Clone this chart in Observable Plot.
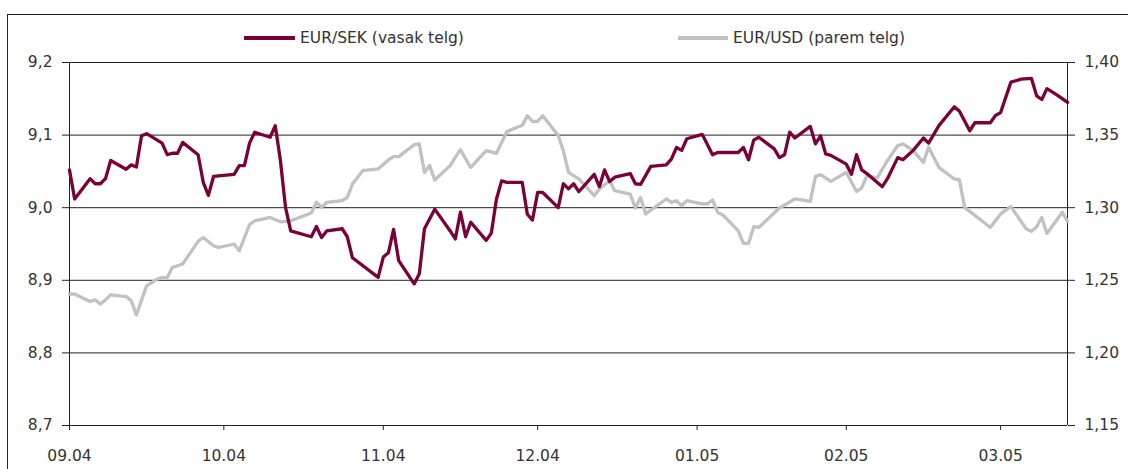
<!DOCTYPE html>
<html><head><meta charset="utf-8">
<script src="https://cdn.jsdelivr.net/npm/d3@7"></script>
<script src="https://cdn.jsdelivr.net/npm/@observablehq/plot@0.6"></script>
<style>
body{margin:0;background:#fff;}
#wrap{position:relative;width:1128px;height:469px;overflow:hidden;font-family:"DejaVu Sans",sans-serif;color:#333;background:#fff;}
#frame{position:absolute;left:7px;top:14px;width:1300px;height:600px;border-top:1px solid #222;border-left:1px solid #222;pointer-events:none;}
#legend{position:relative;height:52px;}
.sw{position:absolute;height:4px;}
.lt{position:absolute;font-size:15.5px;line-height:18px;white-space:nowrap;color:#333;}
#chart svg{display:block;}
</style></head><body>
<div id="wrap"><div id="frame"></div><div id="legend"></div><div id="chart"></div></div>
<script>
const seriesNames = ["EUR/SEK (vasak telg)", "EUR/USD (parem telg)"];
const seriesColors = ["#7a0038", "#c0c0c5"];

const sekDates = ["2004-09-01","2004-09-02","2004-09-05","2004-09-06","2004-09-07","2004-09-08","2004-09-09","2004-09-12","2004-09-13","2004-09-14","2004-09-15","2004-09-16","2004-09-19","2004-09-20","2004-09-21","2004-09-22","2004-09-23","2004-09-26","2004-09-27","2004-09-28","2004-09-29","2004-10-03","2004-10-04","2004-10-05","2004-10-06","2004-10-07","2004-10-10","2004-10-11","2004-10-12","2004-10-13","2004-10-14","2004-10-18","2004-10-19","2004-10-20","2004-10-21","2004-10-24","2004-10-25","2004-10-26","2004-10-31","2004-11-01","2004-11-02","2004-11-03","2004-11-04","2004-11-07","2004-11-08","2004-11-09","2004-11-11","2004-11-14","2004-11-15","2004-11-16","2004-11-17","2004-11-18","2004-11-21","2004-11-22","2004-11-23","2004-11-24","2004-11-25","2004-11-28","2004-11-29","2004-11-30","2004-12-01","2004-12-02","2004-12-05","2004-12-06","2004-12-07","2004-12-08","2004-12-09","2004-12-12","2004-12-13","2004-12-14","2004-12-15","2004-12-16","2004-12-19","2004-12-20","2004-12-21","2004-12-23","2004-12-26","2004-12-27","2004-12-28","2004-12-29","2004-12-30","2005-01-02","2005-01-04","2005-01-05","2005-01-09","2005-01-10","2005-01-11","2005-01-12","2005-01-13","2005-01-16","2005-01-17","2005-01-18","2005-01-19","2005-01-20","2005-01-23","2005-01-24","2005-01-25","2005-01-26","2005-01-27","2005-01-30","2005-01-31","2005-02-01","2005-02-02","2005-02-03","2005-02-06","2005-02-07","2005-02-09","2005-02-10","2005-02-12","2005-02-14","2005-02-15","2005-02-17","2005-02-20","2005-02-21","2005-02-23","2005-02-24","2005-02-27","2005-02-28","2005-03-01","2005-03-03","2005-03-05","2005-03-07","2005-03-08","2005-03-09","2005-03-10","2005-03-12","2005-03-14"];
const sekValues = [9.052,9.012,9.040,9.033,9.033,9.040,9.065,9.053,9.059,9.056,9.099,9.102,9.089,9.073,9.075,9.075,9.090,9.073,9.035,9.017,9.043,9.046,9.058,9.058,9.089,9.104,9.097,9.113,9.065,9.000,8.968,8.960,8.974,8.959,8.968,8.971,8.960,8.931,8.904,8.932,8.938,8.970,8.927,8.895,8.909,8.971,8.998,8.968,8.957,8.994,8.960,8.980,8.955,8.965,9.012,9.037,9.035,9.035,8.991,8.983,9.021,9.021,9.000,9.033,9.026,9.033,9.022,9.046,9.029,9.052,9.036,9.042,9.047,9.033,9.032,9.057,9.059,9.067,9.083,9.079,9.095,9.101,9.073,9.076,9.076,9.083,9.066,9.093,9.097,9.081,9.069,9.073,9.104,9.096,9.112,9.088,9.099,9.074,9.072,9.060,9.046,9.073,9.052,9.047,9.029,9.040,9.069,9.066,9.079,9.096,9.089,9.113,9.139,9.133,9.106,9.117,9.117,9.127,9.131,9.173,9.177,9.178,9.154,9.149,9.164,9.155,9.145];

const usdDates = ["2004-09-01","2004-09-02","2004-09-05","2004-09-06","2004-09-07","2004-09-08","2004-09-09","2004-09-12","2004-09-13","2004-09-14","2004-09-16","2004-09-18","2004-09-19","2004-09-20","2004-09-21","2004-09-23","2004-09-26","2004-09-27","2004-09-29","2004-09-30","2004-10-03","2004-10-04","2004-10-06","2004-10-07","2004-10-10","2004-10-12","2004-10-14","2004-10-18","2004-10-19","2004-10-20","2004-10-21","2004-10-24","2004-10-25","2004-10-26","2004-10-28","2004-10-31","2004-11-02","2004-11-03","2004-11-04","2004-11-07","2004-11-08","2004-11-09","2004-11-10","2004-11-11","2004-11-14","2004-11-15","2004-11-16","2004-11-17","2004-11-18","2004-11-21","2004-11-23","2004-11-25","2004-11-27","2004-11-28","2004-11-29","2004-11-30","2004-12-01","2004-12-02","2004-12-05","2004-12-06","2004-12-07","2004-12-09","2004-12-12","2004-12-13","2004-12-15","2004-12-16","2004-12-19","2004-12-20","2004-12-21","2004-12-22","2004-12-26","2004-12-27","2004-12-28","2004-12-29","2004-12-30","2005-01-02","2005-01-03","2005-01-04","2005-01-05","2005-01-06","2005-01-09","2005-01-10","2005-01-11","2005-01-12","2005-01-13","2005-01-17","2005-01-20","2005-01-23","2005-01-24","2005-01-25","2005-01-27","2005-01-30","2005-02-01","2005-02-02","2005-02-03","2005-02-05","2005-02-07","2005-02-09","2005-02-10","2005-02-12","2005-02-14","2005-02-15","2005-02-17","2005-02-20","2005-02-21","2005-02-22","2005-02-27","2005-03-01","2005-03-03","2005-03-06","2005-03-07","2005-03-08","2005-03-09","2005-03-10","2005-03-13","2005-03-14"];
const usdValues = [1.2405,1.2405,1.2354,1.2366,1.2336,1.2366,1.2400,1.2388,1.2359,1.2262,1.2462,1.2508,1.2519,1.2519,1.2588,1.2612,1.2768,1.2795,1.2738,1.2726,1.2750,1.2703,1.2883,1.2910,1.2933,1.2903,1.2910,1.2963,1.3037,1.3002,1.3037,1.3048,1.3071,1.3163,1.3255,1.3267,1.3329,1.3352,1.3352,1.3434,1.3439,1.3243,1.3290,1.3191,1.3290,1.3347,1.3400,1.3336,1.3278,1.3393,1.3374,1.3524,1.3554,1.3566,1.3634,1.3595,1.3595,1.3634,1.3497,1.3393,1.3243,1.3198,1.3083,1.3129,1.3186,1.3117,1.3094,1.2998,1.3071,1.2957,1.3060,1.3037,1.3048,1.3014,1.3048,1.3026,1.3026,1.3053,1.2968,1.2950,1.2841,1.2754,1.2754,1.2869,1.2864,1.2998,1.3060,1.3043,1.3214,1.3228,1.3181,1.3243,1.3112,1.3136,1.3221,1.3205,1.3324,1.3428,1.3439,1.3393,1.3312,1.3416,1.3278,1.3198,1.3191,1.3002,1.2864,1.2957,1.3007,1.2853,1.2837,1.2869,1.2933,1.2823,1.2968,1.2906];

const leftTicks = [8.7, 8.8, 8.9, 9.0, 9.1, 9.2];
const rightTicks = [1.15, 1.20, 1.25, 1.30, 1.35, 1.40];
const xTickDates = ["2004-09-01","2004-10-01","2004-11-01","2004-12-01","2005-01-01","2005-01-30","2005-03-01"];
const xTickLabels = ["09.04","10.04","11.04","12.04","01.05","02.05","03.05"];
const xDomain = ["2004-09-01","2005-03-14"];

// legend
const legend = document.getElementById("legend");
const legendPos = [{sw:244, w:51, tx:300}, {sw:678, w:50, tx:733}];
seriesNames.forEach((name, i) => {
  const s = document.createElement("div");
  s.className = "sw";
  s.style.left = legendPos[i].sw + "px"; s.style.width = legendPos[i].w + "px";
  s.style.top = "36px"; s.style.background = seriesColors[i];
  legend.appendChild(s);
  const t = document.createElement("div");
  t.className = "lt"; t.textContent = name;
  t.style.left = legendPos[i].tx + "px"; t.style.top = "29px";
  legend.appendChild(t);
});

// map right-axis values onto left scale
const [l0, l1] = [leftTicks[0], leftTicks[leftTicks.length-1]];
const [r0, r1] = [rightTicks[0], rightTicks[rightTicks.length-1]];
const toLeft = v => l0 + (v - r0) * (l1 - l0) / (r1 - r0);

const sek = sekDates.map((d, i) => ({date: new Date(d), value: sekValues[i]}));
const usd = usdDates.map((d, i) => ({date: new Date(d), value: toLeft(usdValues[i])}));
const xd = xDomain.map(d => new Date(d));
const xt = xTickDates.map(d => new Date(d));
const xLabelMap = new Map(xt.map((d, i) => [+d, xTickLabels[i]]));
const comma = (v, n) => v.toFixed(n).replace(".", ",");

const chart = Plot.plot({
  width: 1128, height: 417,
  marginLeft: 69, marginRight: 61, marginTop: 10, marginBottom: 44,
  x: {type: "utc", domain: xd},
  y: {domain: [l0, l1]},
  style: {fontFamily: "DejaVu Sans", fontSize: "15.5px", color: "#333", background: "white"},
  marks: [
    Plot.ruleY(leftTicks, {stroke: "#222", strokeWidth: 1}),
    Plot.ruleX(xd, {stroke: "#222", strokeWidth: 1}),
    Plot.axisY({anchor: "left", ticks: leftTicks, tickFormat: d => comma(d, 1), tickSize: 7, tickPadding: 10, label: null, stroke: "#222", fill: "#333"}),
    Plot.axisY({anchor: "right", ticks: leftTicks, tickFormat: d => comma(rightTicks[Math.round((d - l0) * 10)], 2), tickSize: 7, tickPadding: 10, label: null, stroke: "#222", fill: "#333"}),
    Plot.axisX({ticks: xt, tickFormat: d => xLabelMap.get(+d), tickSize: 5, tickPadding: 19, label: null, stroke: "#222", fill: "#333"}),
    Plot.line(usd, {x: "date", y: "value", stroke: seriesColors[1], strokeWidth: 3.3}),
    Plot.line(sek, {x: "date", y: "value", stroke: seriesColors[0], strokeWidth: 3.3})
  ]
});
document.getElementById("chart").appendChild(chart);
</script>
</body></html>
